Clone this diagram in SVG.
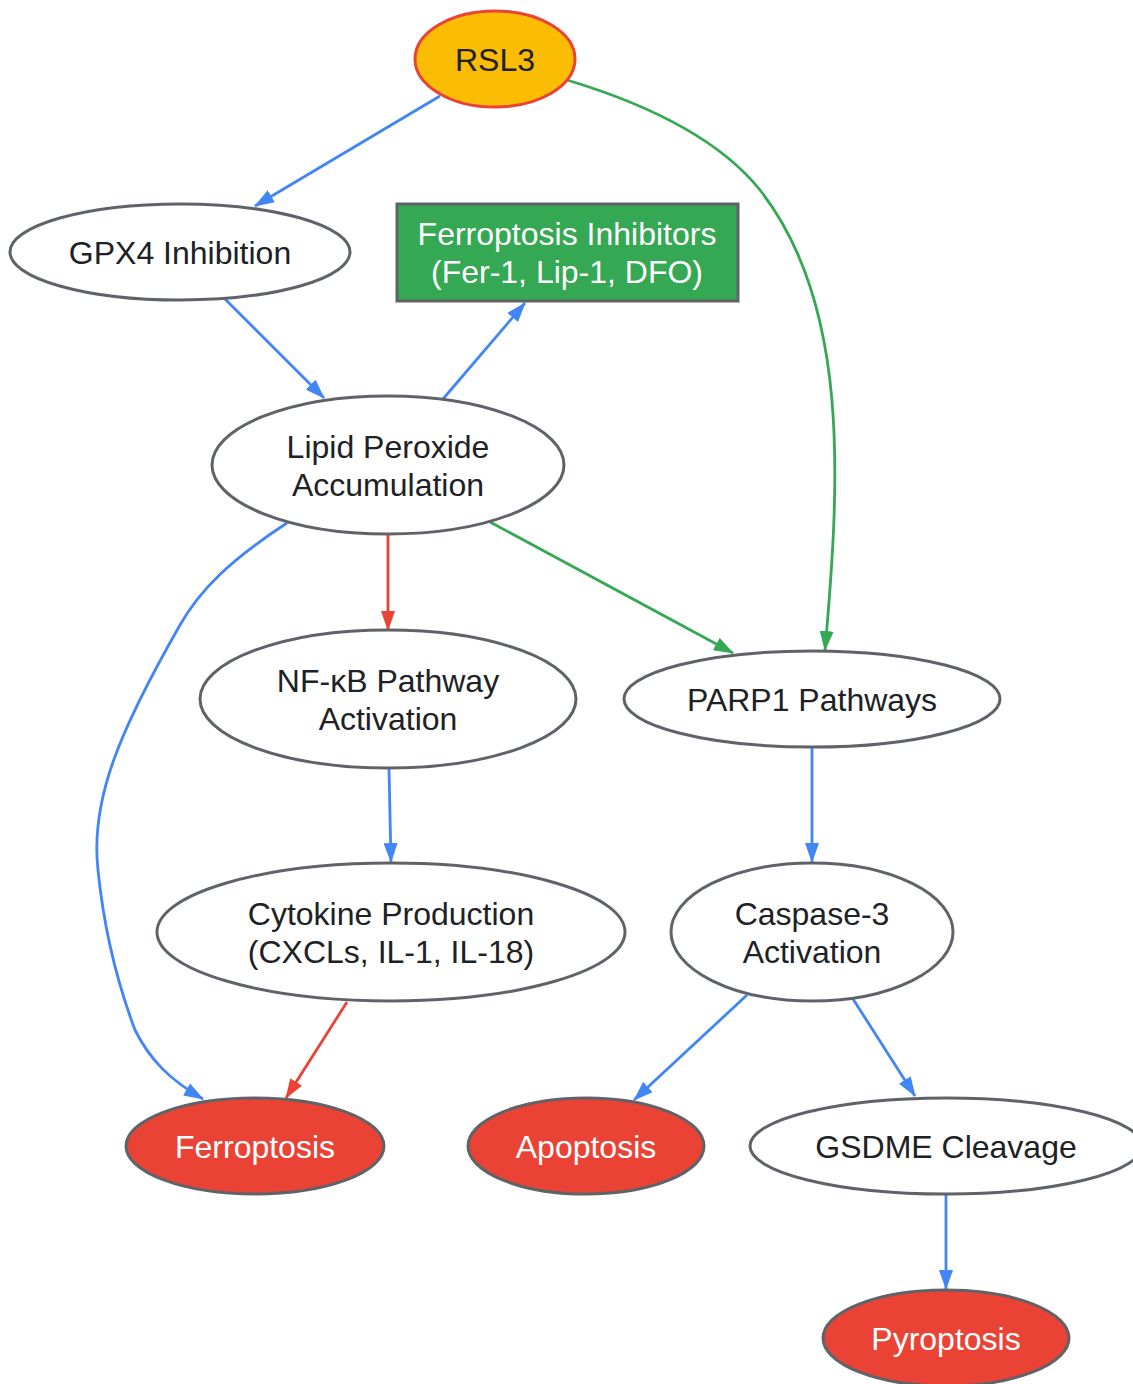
<svg xmlns="http://www.w3.org/2000/svg" width="1133" height="1384" viewBox="0 0 1133 1384">
<defs>
<marker id="ab" viewBox="0 0 20 14" refX="19" refY="7" markerWidth="20" markerHeight="14" markerUnits="userSpaceOnUse" orient="auto"><path d="M0,0 L20,7 L0,14 z" fill="#4285F4"/></marker>
<marker id="ag" viewBox="0 0 20 14" refX="19" refY="7" markerWidth="20" markerHeight="14" markerUnits="userSpaceOnUse" orient="auto"><path d="M0,0 L20,7 L0,14 z" fill="#34A853"/></marker>
<marker id="ar" viewBox="0 0 20 14" refX="19" refY="7" markerWidth="20" markerHeight="14" markerUnits="userSpaceOnUse" orient="auto"><path d="M0,0 L20,7 L0,14 z" fill="#EA4335"/></marker>
</defs>
<style>
text{font-family:"Liberation Sans",Arial,sans-serif;font-size:32px;text-anchor:middle;dominant-baseline:central;fill:#202124}
.n ellipse,.n rect{fill:#fff;stroke:#5F6368;stroke-width:3}
.red ellipse{fill:#EA4335}
.w text{fill:#fff}
.e path{fill:none;stroke-width:2.8}
.b{stroke:#4285F4}.g{stroke:#34A853}.r{stroke:#EA4335}
</style>
<g id="edges" class="e">
<path class="b" d="M440,96 L255,206" marker-end="url(#ab)"/>
<path class="g" d="M567,80 C650,105 720,140 760,190 C850,305 840,480 825,650" marker-end="url(#ag)"/>
<path class="b" d="M225,299 L324,398" marker-end="url(#ab)"/>
<path class="b" d="M443,399 L525,303" marker-end="url(#ab)"/>
<path class="r" d="M388,535 L388,630" marker-end="url(#ar)"/>
<path class="g" d="M490,522 L733,653" marker-end="url(#ag)"/>
<path class="b" d="M287,523 C230,560 200,590 180,625 C120,730 90,800 98,870 C105,940 120,990 135,1030 C150,1060 170,1080 203,1099" marker-end="url(#ab)"/>
<path class="b" d="M389,768 L391,862" marker-end="url(#ab)"/>
<path class="b" d="M812,747 L812,862" marker-end="url(#ab)"/>
<path class="r" d="M347,1002 L286,1098" marker-end="url(#ar)"/>
<path class="b" d="M747,995 L634,1100" marker-end="url(#ab)"/>
<path class="b" d="M853,999 L915,1096" marker-end="url(#ab)"/>
<path class="b" d="M946,1194 L946,1289" marker-end="url(#ab)"/>
</g>
<g id="rsl3" class="n"><ellipse cx="495" cy="59" rx="80" ry="48" style="fill:#FBBC04;stroke:#EA4335"/><text x="495" y="60">RSL3</text></g>
<g id="gpx4" class="n"><ellipse cx="180" cy="252" rx="170" ry="48"/><text x="180" y="253">GPX4 Inhibition</text></g>
<g id="inhibitors" class="n w"><rect x="397" y="204" width="341" height="97" style="fill:#34A853"/><text x="567" y="234">Ferroptosis Inhibitors</text><text x="567" y="272">(Fer-1, Lip-1, DFO)</text></g>
<g id="lipid" class="n"><ellipse cx="388" cy="465" rx="176" ry="69"/><text x="388" y="447">Lipid Peroxide</text><text x="388" y="485">Accumulation</text></g>
<g id="nfkb" class="n"><ellipse cx="388" cy="699" rx="188" ry="69"/><text x="388" y="681">NF-κB Pathway</text><text x="388" y="719">Activation</text></g>
<g id="parp1" class="n"><ellipse cx="812" cy="699" rx="188" ry="48"/><text x="812" y="700">PARP1 Pathways</text></g>
<g id="cytokine" class="n"><ellipse cx="391" cy="932" rx="234" ry="69"/><text x="391" y="914">Cytokine Production</text><text x="391" y="952">(CXCLs, IL-1, IL-18)</text></g>
<g id="caspase3" class="n"><ellipse cx="812" cy="932" rx="141" ry="69"/><text x="812" y="914">Caspase-3</text><text x="812" y="952">Activation</text></g>
<g id="ferroptosis" class="n red w"><ellipse cx="255" cy="1146" rx="129" ry="48"/><text x="255" y="1147">Ferroptosis</text></g>
<g id="apoptosis" class="n red w"><ellipse cx="586" cy="1146" rx="118" ry="48"/><text x="586" y="1147">Apoptosis</text></g>
<g id="gsdme" class="n"><ellipse cx="946" cy="1146" rx="196" ry="48"/><text x="946" y="1147">GSDME Cleavage</text></g>
<g id="pyroptosis" class="n red w"><ellipse cx="946" cy="1338" rx="123" ry="48"/><text x="946" y="1339">Pyroptosis</text></g>
</svg>
